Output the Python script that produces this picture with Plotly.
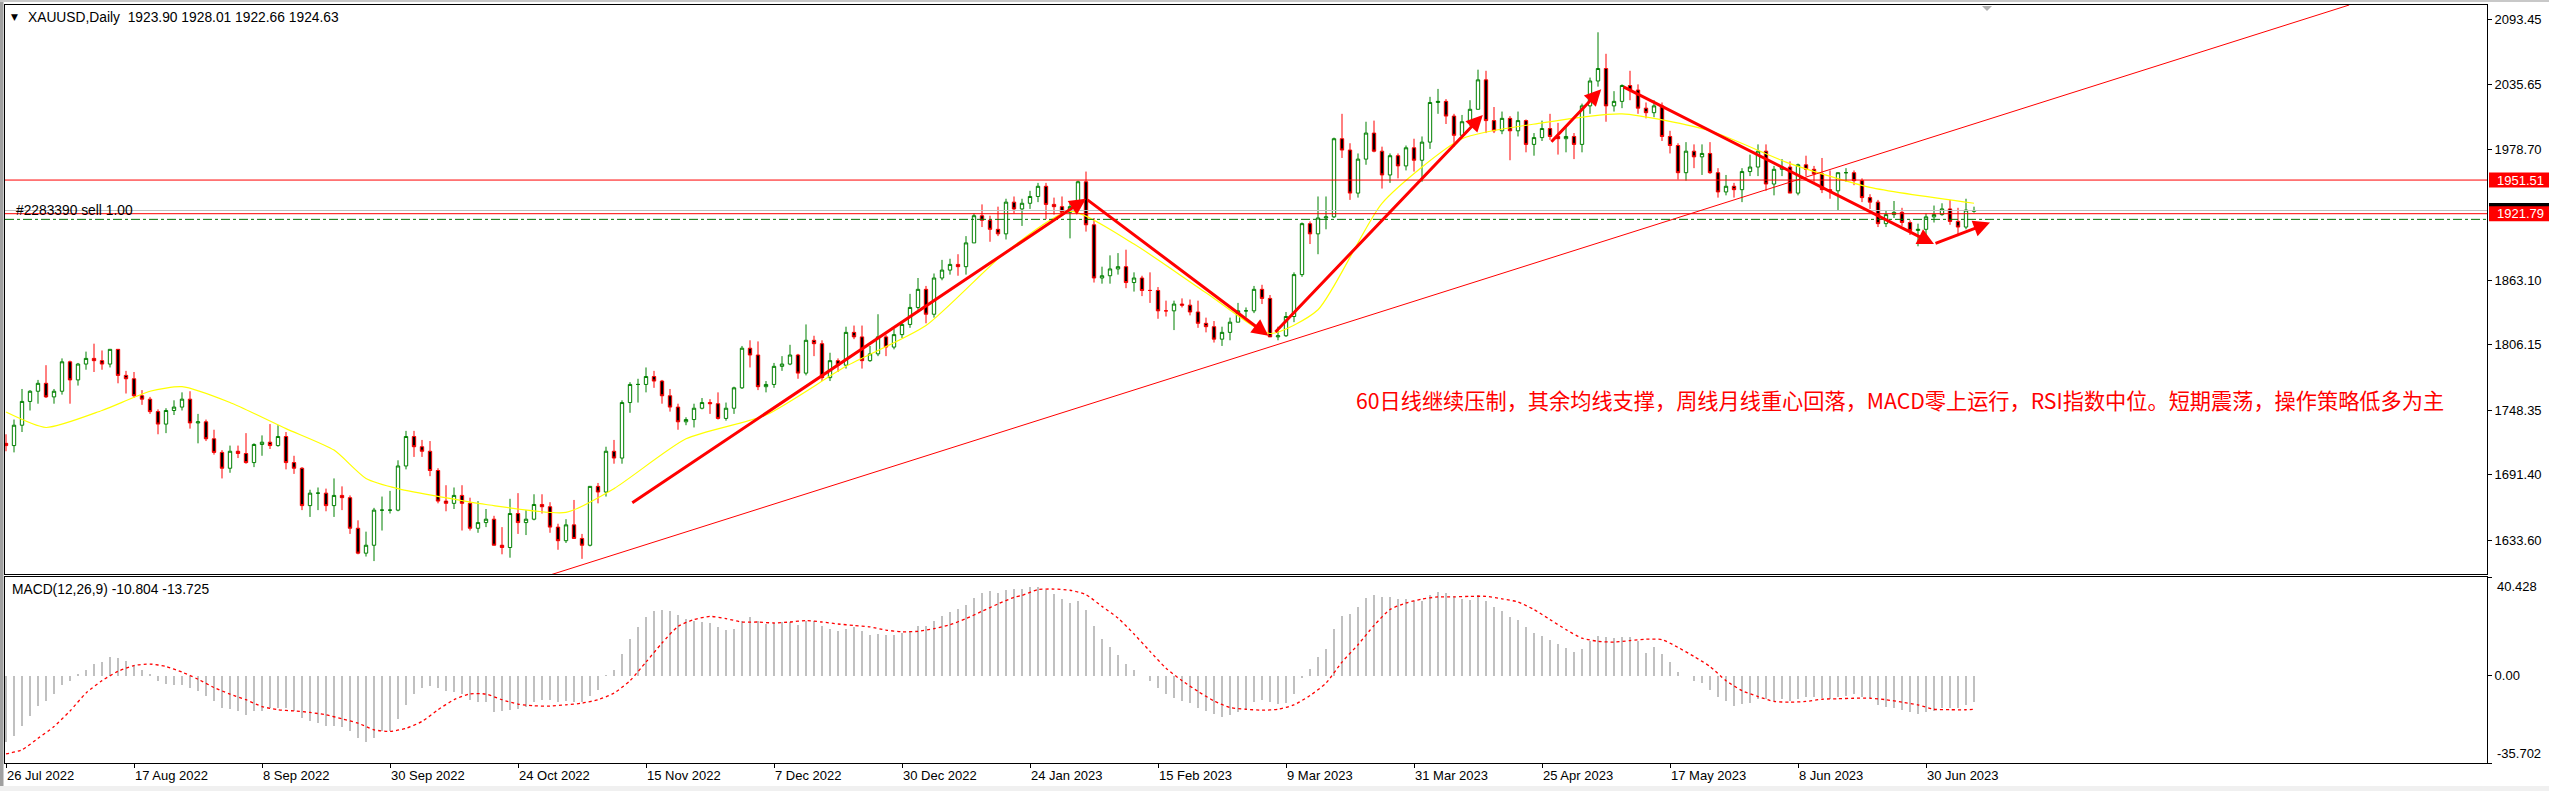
import plotly.graph_objects as go

# ---------------- data ----------------
tick_labels = ["26 Jul 2022", "17 Aug 2022", "8 Sep 2022", "30 Sep 2022", "24 Oct 2022",
               "15 Nov 2022", "7 Dec 2022", "30 Dec 2022", "24 Jan 2023", "15 Feb 2023",
               "9 Mar 2023", "31 Mar 2023", "25 Apr 2023", "17 May 2023", "8 Jun 2023",
               "30 Jun 2023"]
tick_bars = [0, 16, 32, 48, 64, 80, 96, 112, 128, 144, 160, 176, 192, 208, 224, 240]

opens = [1719,1717,1735,1756,1765,1772,1760,1765,1791,1775,1789,1794,1792,1789,1802,1779,1776,1761,1758,1747,
         1736,1748,1751,1758,1737,1738,1723,1711,1697,1712,1710,1702,1718,1720,1717,1725,1702,1697,1664,1675,
         1675,1664,1673,1671,1644,1622,1629,1660,1660,1660,1699,1725,1716,1712,1695,1668,1666,1673,1666,1644,
         1649,1652,1629,1627,1657,1649,1652,1665,1663,1645,1633,1647,1635,1629,1681,1676,1712,1706,1755,1771,
         1771,1778,1774,1761,1751,1738,1740,1750,1755,1754,1741,1750,1768,1803,1797,1769,1771,1787,1789,1797,
         1781,1810,1807,1777,1792,1788,1817,1813,1792,1798,1813,1804,1815,1824,1839,1855,1833,1865,1872,1877,
         1875,1896,1920,1916,1908,1904,1932,1926,1931,1937,1946,1930,1928,1923,1928,1950,1912,1865,1867,1873,
         1875,1861,1865,1854,1854,1836,1836,1842,1841,1835,1825,1822,1811,1817,1826,1836,1836,1855,1847,1813,
         1814,1831,1868,1913,1904,1918,1919,1988,1978,1940,1970,1993,1977,1956,1973,1964,1980,1969,1985,2020,
         2021,2008,1991,2003,2014,2040,2004,1995,2006,1995,2004,1983,1989,1997,1990,1988,1990,1983,2017,2039,
         2050,2017,2021,2035,2031,2015,2011,2017,1990,1982,1958,1977,1972,1975,1958,1941,1946,1943,1959,1963,
         1977,1948,1961,1963,1940,1965,1961,1957,1943,1942,1958,1958,1951,1936,1932,1913,1921,1923,1914,1907,
         1908,1919,1921,1926,1915,1910,1923.90]
highs = [1727,1740,1767,1766,1775,1788,1767,1794,1792,1790,1800,1807,1801,1802,1802,1783,1782,1766,1760,1749,
         1750,1757,1764,1765,1745,1740,1731,1713,1717,1717,1728,1719,1726,1736,1735,1729,1708,1698,1678,1680,
         1679,1688,1681,1673,1651,1641,1662,1672,1677,1704,1730,1730,1722,1721,1697,1682,1680,1682,1671,1668,
         1661,1655,1645,1670,1675,1660,1674,1674,1667,1648,1652,1669,1639,1681,1684,1716,1722,1757,1773,1776,
         1786,1783,1775,1767,1754,1742,1754,1759,1758,1764,1755,1769,1805,1810,1809,1774,1790,1796,1806,1798,
         1824,1814,1810,1799,1794,1822,1823,1823,1805,1833,1815,1820,1827,1851,1865,1858,1869,1881,1882,1886,
         1902,1922,1930,1920,1928,1935,1937,1935,1942,1949,1949,1936,1937,1932,1951,1959,1918,1875,1885,1887,
         1890,1870,1867,1870,1857,1845,1845,1847,1846,1845,1830,1827,1822,1830,1843,1839,1858,1859,1850,1822,
         1835,1870,1914,1915,1937,1937,1989,2010,1984,1975,2003,2004,1981,1975,1975,1982,1988,1990,2025,2032,
         2023,2010,2009,2022,2049,2048,2016,2012,2008,2012,2005,1993,2004,2010,2002,2000,1993,2019,2042,2082,
         2063,2030,2036,2048,2036,2020,2022,2020,1995,1984,1985,1983,1983,1985,1962,1956,1949,1962,1974,1983,
         1983,1964,1970,1968,1966,1973,1964,1971,1960,1958,1962,1960,1953,1939,1934,1925,1933,1927,1916,1913,
         1922,1929,1931,1934,1927,1935,1928.01]
lows = [1712,1711,1729,1748,1754,1759,1754,1762,1754,1770,1784,1782,1784,1786,1772,1763,1759,1753,1745,1727,
        1728,1744,1748,1732,1719,1721,1709,1688,1693,1706,1701,1698,1708,1714,1716,1696,1692,1660,1654,1660,
        1659,1654,1660,1639,1621,1619,1615,1642,1657,1659,1696,1707,1707,1690,1666,1659,1661,1642,1642,1640,
        1645,1629,1621,1618,1639,1638,1651,1657,1640,1625,1631,1635,1617,1628,1666,1672,1701,1701,1746,1755,
        1764,1768,1754,1747,1731,1735,1733,1749,1745,1740,1739,1745,1767,1786,1766,1764,1768,1783,1788,1776,
        1779,1796,1774,1774,1782,1785,1811,1785,1791,1796,1796,1802,1812,1821,1837,1825,1830,1863,1868,1867,
        1868,1896,1910,1897,1902,1899,1922,1911,1926,1932,1917,1921,1920,1900,1925,1906,1861,1860,1860,1868,
        1856,1853,1849,1843,1829,1831,1819,1839,1832,1821,1817,1808,1805,1810,1826,1830,1834,1842,1813,1810,
        1813,1826,1866,1895,1886,1908,1918,1971,1934,1936,1965,1976,1944,1949,1953,1960,1959,1950,1979,2010,
        2001,1981,1990,1999,2014,1993,1993,1992,1969,1990,1976,1973,1986,1987,1974,1976,1970,1976,2010,2034,
        2003,2012,2015,2022,2010,2006,2007,1986,1975,1952,1951,1962,1956,1957,1936,1938,1936,1932,1955,1955,
        1942,1938,1955,1940,1938,1955,1950,1940,1935,1925,1950,1947,1932,1926,1910,1910,1918,1911,1903,1893,
        1902,1914,1920,1912,1902,1908,1922.66]
closes = [1717,1735,1756,1765,1772,1760,1765,1791,1775,1789,1794,1792,1789,1802,1779,1776,1761,1758,1747,1736,
          1748,1751,1758,1737,1738,1723,1711,1697,1712,1710,1702,1718,1720,1717,1725,1702,1697,1664,1675,1675,
          1664,1673,1671,1644,1622,1629,1660,1660,1660,1699,1725,1716,1712,1695,1668,1666,1673,1666,1644,1649,
          1652,1629,1627,1657,1649,1652,1665,1663,1645,1633,1647,1635,1629,1681,1676,1712,1706,1755,1771,1771,
          1778,1774,1761,1751,1738,1740,1750,1755,1754,1741,1750,1768,1803,1797,1769,1771,1787,1789,1797,1781,
          1810,1807,1777,1792,1788,1817,1813,1792,1798,1813,1804,1815,1824,1839,1855,1833,1865,1872,1877,1875,
          1896,1920,1916,1908,1904,1932,1926,1931,1937,1946,1930,1928,1923,1928,1950,1912,1865,1867,1873,1875,
          1861,1865,1854,1854,1836,1836,1842,1841,1835,1825,1822,1811,1817,1826,1836,1836,1855,1847,1813,1814,
          1831,1868,1913,1904,1918,1919,1988,1978,1940,1970,1993,1977,1956,1973,1964,1980,1969,1985,2020,2021,
          2008,1991,2003,2014,2040,2004,1995,2006,1995,2004,1983,1989,1997,1990,1988,1990,1983,2017,2039,2050,
          2017,2021,2035,2031,2015,2011,2017,1990,1982,1958,1977,1972,1975,1958,1941,1946,1943,1959,1963,1977,
          1948,1961,1963,1940,1965,1961,1957,1943,1942,1958,1958,1951,1936,1932,1913,1921,1923,1914,1907,1908,
          1919,1921,1926,1915,1910,1925,1924.63]

# yellow moving average, read at selected bars
ma_bars = [0, 5, 12, 18, 22, 28, 35, 41, 45, 49, 60, 70, 76, 85, 95, 105, 115, 125, 133, 141, 150,
           158, 164, 172, 182, 192, 202, 213, 223, 233, 246]
ma_vals = [1746.6, 1733, 1748, 1765, 1769, 1755, 1732, 1713, 1688, 1679, 1665, 1658, 1679, 1723, 1744,
           1787, 1823, 1888, 1924, 1895, 1852, 1816, 1837, 1931, 1988, 2002, 2010, 1995, 1966, 1945, 1931]

# MACD(12,26,9) main values (histogram)
macd_main = [-26.9,-24.5,-20.4,-16.3,-12.2,-10.3,-7.5,-3.6,-2.0,0.4,2.5,4.8,5.5,7.5,7.2,6.2,4.5,2.5,0.4,-2.0,
             -3.4,-3.7,-3.7,-4.8,-6.2,-8.1,-10.3,-13.0,-13.5,-14.6,-16.0,-14.6,-14.4,-13.3,-13.3,-13.3,-14.6,-17.1,-18.5,-19.4,
             -20.4,-20.4,-20.8,-22.6,-25.3,-26.9,-25.6,-22.6,-22.8,-17.6,-11.9,-7.5,-4.8,-4.0,-5.1,-6.4,-6.7,-7.5,-9.8,-10.9,
             -10.8,-14.9,-14.5,-13.9,-13.5,-12.6,-10.9,-9.8,-9.8,-10.9,-10.5,-10.9,-10.9,-8.1,-5.7,0.1,2.5,9.0,15.2,20.1,
             24.2,26.7,27.1,26.7,25.0,23.4,22.6,22.0,21.6,19.8,18.9,19.3,22.6,24.1,22.6,21.2,21.6,22.0,22.0,20.9,
             22.3,22.6,20.2,19.3,18.2,19.3,19.8,18.2,16.8,17.2,16.5,16.5,17.4,18.5,20.5,20.5,22.6,24.6,26.2,27.2,
             29.1,31.9,33.9,34.6,34.0,35.3,35.7,35.7,36.2,36.5,35.3,33.5,31.6,29.9,30.5,27.1,20.5,15.2,11.6,8.6,
             4.8,2.5,0.0,-2.3,-5.1,-7.5,-8.9,-10.3,-11.2,-13.0,-14.4,-15.7,-16.7,-16.0,-14.9,-13.9,-10.9,-9.8,-10.8,-11.6,
             -11.2,-7.5,-1.0,2.9,7.5,11.1,19.3,24.6,25.4,28.3,31.9,33.2,32.4,32.4,31.6,31.6,30.5,30.5,32.9,34.3,
             33.9,32.5,31.6,31.2,32.9,30.8,28.3,26.7,24.2,23.0,20.1,17.6,16.4,14.8,13.1,11.5,9.8,11.1,14.1,16.4,
             16.0,15.6,16.0,16.0,14.4,9.4,11.9,9.0,5.7,1.4,0.0,-2.0,-3.1,-5.7,-8.5,-10.5,-12.2,-11.6,-11.3,-9.7,
             -9.4,-10.3,-9.4,-10.3,-9.4,-8.6,-8.6,-9.2,-9.4,-8.5,-8.1,-7.5,-8.6,-9.2,-11.9,-12.7,-13.3,-13.9,-15.0,-15.6,
             -15.0,-14.4,-13.3,-13.0,-13.0,-11.9,-10.8]

# MACD signal line, read at selected bars
sig_bars = [0,2,4,6,8,10,12,14,16,18,20,22,24,26,28,30,32,34,36,38,40,42,44,46,48,50,52,54,56,58,60,62,64,66,68,
            70,72,74,76,78,80,82,84,86,88,90,92,94,96,98,100,102,104,106,108,110,112,114,116,118,120,122,124,126,
            127,129,131,133,135,137,139,141,143,145,147,149,151,153,155,157,159,161,163,165,167,169,171,173,175,
            177,179,181,183,185,187,189,191,193,195,197,199,201,203,205,207,209,211,213,215,217,219,221,223,225,
            227,229,231,233,235,237,239,241,243,245,246]
sig_vals = [-32.0,-30.3,-25.6,-20.8,-14.4,-7.1,-2.0,1.8,4.2,4.8,3.8,1.5,-1.4,-4.8,-7.5,-9.8,-12.6,-13.9,-14.4,-15.0,
            -16.0,-17.6,-19.4,-22.1,-22.8,-21.5,-18.7,-13.9,-9.8,-7.4,-7.5,-9.8,-11.6,-12.3,-12.4,-11.9,-11.2,-9.8,-7.1,-2.0,
            5.6,13.4,20.2,23.0,24.3,23.4,22.0,22.0,21.6,22.0,22.6,22.0,21.2,20.6,20.0,18.7,18.0,18.2,19.3,20.9,
            23.4,26.4,29.4,32.1,32.9,35.3,35.5,35.0,33.2,28.4,23.6,17.1,10.0,3.1,-2.0,-6.4,-10.3,-13.0,-13.7,-14.1,
            -13.7,-11.9,-8.1,-3.0,5.6,12.7,20.6,27.1,29.8,31.4,32.3,32.3,32.5,32.5,31.5,30.2,27.1,23.0,18.9,15.4,
            14.1,13.8,14.4,15.0,14.8,11.6,7.9,3.8,-2.0,-6.1,-8.5,-10.5,-10.8,-10.5,-9.6,-9.4,-9.2,-9.2,-9.8,-10.8,
            -11.9,-13.7,-13.9,-13.9,-13.7]

macd_top, macd_bottom = 40.428, -35.702
level_resist = 1951.51
level_support = 1921.79
bid_price = 1924.63
order_price = 1916.80
title_text = "XAUUSD,Daily  1923.90 1928.01 1922.66 1924.63"
macd_text = "MACD(12,26,9) -10.804 -13.725"
order_text = "#2283390 sell 1.00"
note_text = "60日线继续压制，其余均线支撑，周线月线重心回落，MACD零上运行，RSI指数中位。短期震荡，操作策略低多为主"
note_pos = (168.5, 1757.3)
price_ticks = [2093.45, 2035.65, 1978.70, 1863.10, 1806.15, 1748.35, 1691.40, 1633.60]

# drawn objects (bar index, price)
trend_line = [(68.0, 1602.7), (292.9, 2106.1)]
arrows = [((78.1, 1665.6), (135.0, 1935.0)),
          ((135.0, 1935.0), (157.8, 1814.0)),
          ((158.5, 1816.0), (184.6, 2009.0)),
          ((193.0, 1984.0), (199.4, 2031.8)),
          ((202.0, 2034.5), (241.0, 1895.0)),
          ((241.0, 1895.0), (248.0, 1914.0))]

# ---------------- layout geometry (pixels) ----------------
W, H = 2549, 791
L, R, T, B = 5, 2487, 5, 763
main_bottom, macd_top_px = 574, 577
PW, PH = R - L, B - T


def px_x(p):
    return (p - L) / PW


def px_y(p):
    return (B - p) / PH


n = len(closes)
bars = list(range(n))
xr = [-0.125, 310.125]
yr = [1603.6, 2106.1]

fig = go.Figure()
fig.add_trace(go.Candlestick(
    x=bars, open=opens, high=highs, low=lows, close=closes,
    increasing=dict(line=dict(color="#008000", width=1), fillcolor="#FFFFFF"),
    decreasing=dict(line=dict(color="#FF0000", width=1), fillcolor="#000000"),
    whiskerwidth=0, xaxis="x", yaxis="y", hoverinfo="skip", showlegend=False))
fig.add_trace(go.Scatter(x=ma_bars, y=ma_vals, mode="lines",
                         line=dict(color="#FFFF00", width=1.2, shape="spline", smoothing=0.6),
                         xaxis="x", yaxis="y", showlegend=False, hoverinfo="skip"))
fig.add_trace(go.Bar(x=bars, y=macd_main, width=0.18, marker=dict(color="#C0C0C0", line=dict(width=0)),
                     xaxis="x2", yaxis="y2", showlegend=False, hoverinfo="skip"))
fig.add_trace(go.Scatter(x=sig_bars, y=sig_vals, mode="lines",
                         line=dict(color="#FF0000", width=1.3, dash="dot", shape="spline", smoothing=0.6),
                         xaxis="x2", yaxis="y2", showlegend=False, hoverinfo="skip"))

FAM = "Liberation Sans, Arial, sans-serif"
axis_font = dict(family=FAM, size=13, color="#000000")
label_font = dict(family=FAM, size=13.8, color="#000000")

shapes = []
# horizontal levels
shapes.append(dict(type="line", xref="x domain", yref="y", x0=0, x1=1, y0=level_resist, y1=level_resist,
                   line=dict(color="#FF0000", width=1)))
shapes.append(dict(type="line", xref="x domain", yref="y", x0=0, x1=1, y0=bid_price, y1=bid_price,
                   line=dict(color="#C0C0C0", width=1)))
shapes.append(dict(type="line", xref="x domain", yref="y", x0=0, x1=1, y0=level_support, y1=level_support,
                   line=dict(color="#FF0000", width=1)))
shapes.append(dict(type="line", xref="x domain", yref="y", x0=0, x1=1, y0=order_price, y1=order_price,
                   line=dict(color="#007000", width=1, dash="dashdot")))
# trend line
(tx0, ty0), (tx1, ty1) = trend_line
shapes.append(dict(type="line", xref="x", yref="y", x0=tx0, y0=ty0, x1=tx1, y1=ty1,
                   line=dict(color="#FF0000", width=1)))
# right axis price boxes
ppx = (yr[1] - yr[0]) / (main_bottom - T)
for price, col in [(level_resist, "#FF0000"), (bid_price, "#000000"), (level_support, "#FF0000")]:
    shapes.append(dict(type="rect", xref="paper", yref="y", x0=px_x(R + 2), x1=px_x(W),
                       y0=price - 7.5 * ppx, y1=price + 7.5 * ppx, fillcolor=col, line=dict(width=0), layer="above"))
# window frame
shapes.append(dict(type="rect", xref="paper", yref="paper", x0=px_x(0), x1=px_x(3.5), y0=px_y(0), y1=px_y(H),
                   fillcolor="#A0A0A0", line=dict(width=0)))
shapes.append(dict(type="rect", xref="paper", yref="paper", x0=px_x(0), x1=px_x(W), y0=px_y(0), y1=px_y(2),
                   fillcolor="#C8C8C8", line=dict(width=0)))
shapes.append(dict(type="rect", xref="paper", yref="paper", x0=px_x(0), x1=px_x(W), y0=px_y(786), y1=px_y(H),
                   fillcolor="#F0F0F0", line=dict(width=0)))
# chart-shift marker
shapes.append(dict(type="path", xref="paper", yref="paper",
                   path="M %f %f L %f %f L %f %f Z" % (px_x(1982), px_y(6), px_x(1992), px_y(6), px_x(1987), px_y(11)),
                   fillcolor="#B0B0B0", line=dict(width=0)))

ann = []
for (x0, y0), (x1, y1) in arrows:
    ann.append(dict(x=x1, y=y1, ax=x0, ay=y0, xref="x", yref="y", axref="x", ayref="y", text="",
                    showarrow=True, arrowhead=2, arrowsize=1.1, arrowwidth=3, arrowcolor="#FF0000"))
ann.append(dict(x=px_x(9), y=px_y(17), xref="paper", yref="paper", text="▼", showarrow=False,
                xanchor="left", yanchor="middle", font=dict(family="DejaVu Sans", size=9, color="#000000")))
ann.append(dict(x=px_x(26), y=px_y(17), xref="paper", yref="paper", text=title_text, showarrow=False,
                xanchor="left", yanchor="middle", font=label_font))
ann.append(dict(x=px_x(10), y=px_y(589), xref="paper", yref="paper", text=macd_text, showarrow=False,
                xanchor="left", yanchor="middle", font=label_font))
ann.append(dict(x=px_x(14), y=bid_price, xref="paper", yref="y", text=order_text, showarrow=False,
                xanchor="left", yanchor="middle", font=label_font))
ann.append(dict(x=note_pos[0], y=note_pos[1], xref="x", yref="y", text=note_text, showarrow=False,
                xanchor="left", yanchor="middle",
                font=dict(family="Noto Sans CJK SC", size=21.2, color="#FF0000")))
for price, txt_col in [(level_resist, "#FFFFFF"), (level_support, "#FFFFFF")]:
    ann.append(dict(x=px_x(R + 8), y=price, xref="paper", yref="y", text="%.2f" % price, showarrow=False,
                    xanchor="left", yanchor="middle", font=dict(family=FAM, size=13, color=txt_col)))
ann.append(dict(x=px_x(R + 8), y=macd_top, xref="paper", yref="y2", text="%.3f" % macd_top, showarrow=False,
                xanchor="left", yanchor="top", font=axis_font))
ann.append(dict(x=px_x(R + 8), y=macd_bottom, xref="paper", yref="y2", text="%.3f" % macd_bottom, showarrow=False,
                xanchor="left", yanchor="bottom", font=axis_font))

fig.update_layout(
    width=W, height=H, margin=dict(l=L, r=W - R, t=T, b=H - B, pad=0),
    paper_bgcolor="#FFFFFF", plot_bgcolor="#FFFFFF", showlegend=False,
    boxgap=0.4, bargap=0,
    xaxis=dict(domain=[0, 1], range=xr, anchor="y", showticklabels=False, ticks="", showgrid=False,
               zeroline=False, showline=True, mirror=True, linecolor="#000000", linewidth=1,
               rangeslider=dict(visible=False), fixedrange=True),
    yaxis=dict(domain=[px_y(main_bottom), 1], range=yr, side="right", anchor="x", tickvals=price_ticks,
               ticktext=["%.2f" % v for v in price_ticks], ticks="outside", ticklen=4, tickcolor="#000000",
               showgrid=False, zeroline=False, showline=True, mirror=True, linecolor="#000000", linewidth=1,
               tickfont=axis_font, fixedrange=True),
    xaxis2=dict(domain=[0, 1], range=xr, anchor="y2", tickvals=tick_bars, ticktext=tick_labels,
                ticks="outside", ticklen=4, tickcolor="#000000", ticklabelposition="outside right",
                showgrid=False, zeroline=False, showline=True, mirror=True, linecolor="#000000", linewidth=1,
                tickfont=axis_font, fixedrange=True),
    yaxis2=dict(domain=[0, px_y(macd_top_px)], range=[macd_bottom, macd_top], side="right", anchor="x2",
                tickvals=[macd_top, 0, macd_bottom], ticktext=["", "0.00", ""], ticks="outside", ticklen=4,
                tickcolor="#000000", showgrid=False, zeroline=False, showline=True, mirror=True,
                linecolor="#000000", linewidth=1, tickfont=axis_font, fixedrange=True),
    shapes=shapes, annotations=ann,
)

fig.write_html("out.html", config={"displayModeBar": False},
               post_script="document.body.style.margin='0';document.body.style.overflow='hidden';")
